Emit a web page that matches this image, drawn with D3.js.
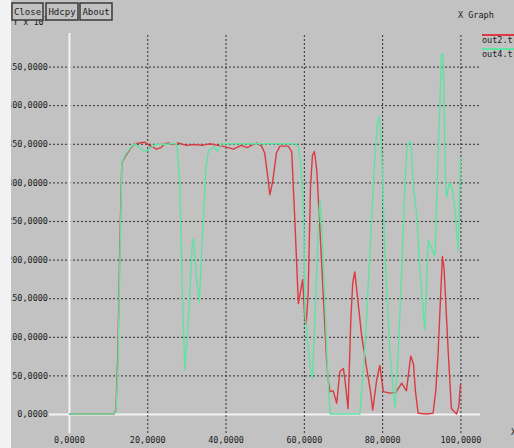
<!DOCTYPE html>
<html><head><meta charset="utf-8">
<script src="https://cdn.jsdelivr.net/npm/d3@7/dist/d3.min.js"></script>
<style>
html,body{margin:0;padding:0;background:#c2c2c2;}
svg{display:block;}
text{font-family:"DejaVu Sans Mono","Liberation Mono",monospace;font-size:8.5px;fill:#202020;}
</style></head>
<body>
<script>
// ---- data (x in 10^3, y in 10^3) ----
const xTicks = [0, 20, 40, 60, 80, 100];
const yTicks = [0, 50, 100, 150, 200, 250, 300, 350, 400, 450];
const seriesNames = ["out2.tr", "out4.tr"];
const out2X = [0,11.5,12,12.5,13,13.5,14.3,16,17,18,19.4,20.5,22.4,23.5,24.5,25.4,26.5,27.9,30,32,34,36,38,40,42,44,45.5,47,48,49.2,50,50.9,51.3,52,53,53.9,56,56.9,57.7,58.2,58.6,59.2,59.7,60.3,60.6,61.1,61.7,62.2,62.7,63.3,63.9,64.5,65.2,65.8,66.2,66.7,67.5,68.4,69.2,70.1,70.6,71.3,72,72.5,73,73.7,74.8,76,77,77.6,78.6,79.4,80.3,82,83.5,85,86.2,87.3,88,88.5,89.2,91.4,93,93.7,94.3,95,95.4,95.8,96.2,96.9,97.7,99,99.6,100];
const out2Y = [0,0,5,80,220,325,333,346,350,351,352,348,343,345,350,351,349,351,348,349,348,350,348,346,343,348,345,349,351,347,338,303,284,300,338,347,347,340,251,191,143,160,174,120,117,156,294,335,340,316,260,200,130,70,44,29,30,14,55,59,40,7,122,170,184,152,100,61,30,5,44,63,29,27,28,40,30,75,65,30,1,0,1,30,79,160,204,190,150,79,7,0,10,38];
const out4X = [0,11,12,12.5,13,13.5,14.3,16,17,18,19,20,21,22,24,26,27.5,28.3,29,29.6,30.5,31.5,31.9,32.5,33.3,34,35,35.6,37,38,39,42,45,50,55,57.7,58.5,59.2,59.8,60,60.3,60.9,61.6,62.2,62.8,63.7,64.1,64.6,65.4,66,66.7,74.3,75.2,76,77.3,78.2,78.8,79.3,79.9,80.7,82,83.3,84.1,85,85.8,86.4,87.3,88,88.8,89.7,90.9,91.8,92.6,93.5,94.3,95.2,95.6,96.2,96.5,97.2,98,98.7,99.4,100];
const out4Y = [0,0,2,60,200,325,335,347,350,345,341,341,345,349,349,350,350,300,150,57,120,220,227,180,145,220,320,340,346,340,350,350,350,350,350,350,348,325,273,243,130,96,61,46,120,243,277,240,143,60,0,0,57,122,251,338,376,385,338,208,79,9,79,187,294,350,353,294,260,182,109,225,215,204,338,467,465,300,281,300,290,260,212,333];

const W = 514, H = 448;
const svg = d3.select("body").append("svg").attr("width", W).attr("height", H);
svg.append("rect").attr("width", W).attr("height", H).attr("fill", "#c2c2c2");

const x = d3.scaleLinear().domain([-5.1, 105]).range([49, 480]);
const y = d3.scaleLinear().domain([-24.6, 493.5]).range([433, 33]);
const fmt = v => d3.format(".4f")(v).replace(".", ",");

// y axis with grid
const gy = svg.append("g").attr("transform", "translate(49,0)")
  .call(d3.axisLeft(y).tickValues(yTicks).tickSize(-431).tickPadding(1).tickFormat(fmt));
gy.select(".domain").remove();
gy.selectAll("line").attr("stroke", "#303030").attr("stroke-dasharray", "2,2").attr("stroke-width", 1);
gy.selectAll(".tick").filter(d => d === 0).select("line")
  .attr("stroke", "#f4f4f4").attr("stroke-dasharray", null).attr("stroke-width", 2);
gy.selectAll("text").attr("fill", "#202020").style("font-size", "8.5px").attr("font-family", null);

// x axis with grid
const gx = svg.append("g").attr("transform", "translate(0,433)")
  .call(d3.axisBottom(x).tickValues(xTicks).tickSize(-400).tickPadding(4).tickFormat(fmt));
gx.select(".domain").remove();
gx.selectAll("line").attr("stroke", "#303030").attr("stroke-dasharray", "2,2").attr("stroke-width", 1);
gx.selectAll(".tick").filter(d => d === 0).select("line")
  .attr("stroke", "#f4f4f4").attr("stroke-dasharray", null).attr("stroke-width", 2);
gx.selectAll("text").attr("fill", "#202020").style("font-size", "8.5px").attr("font-family", null);

// series
const colors = ["#dc3a40", "#5ee3a0"];
const line = d3.line().x(d => x(d[0])).y(d => y(d[1]));
const datasets = [d3.zip(out2X, out2Y), d3.zip(out4X, out4Y)];
datasets.forEach((ds, i) => {
  svg.append("path").datum(ds).attr("d", line).attr("fill", "none")
    .attr("stroke", colors[i]).attr("stroke-width", 1.4).attr("stroke-linejoin", "round");
});

// legend
seriesNames.forEach((n, i) => {
  const ly = 35 + i * 14;
  svg.append("line").attr("x1", 482).attr("x2", 514).attr("y1", ly).attr("y2", ly)
    .attr("stroke", colors[i]).attr("stroke-width", 2);
  svg.append("text").attr("x", 482).attr("y", ly + 8).text(n);
});

// title
svg.append("text").attr("x", 458).attr("y", 18).text("X Graph");

// axis unit labels
const yl = svg.append("text").attr("x", 13).attr("y", 25);
yl.append("tspan").text("Y x 10");
yl.append("tspan").attr("dy", -4).style("font-size", "6.5px").text("3");
svg.append("text").attr("x", 511).attr("y", 435).text("X x 10");

// buttons
const buttons = [["Close", 12, 31], ["Hdcpy", 46, 32], ["About", 80, 32]];
buttons.forEach(b => {
  svg.append("rect").attr("x", b[1]).attr("y", 3).attr("width", b[2]).attr("height", 17)
    .attr("fill", "#c2c2c2").attr("stroke", "#3a3a3a").attr("stroke-width", 1.5);
  svg.append("text").attr("x", b[1] + b[2] / 2).attr("y", 15).attr("text-anchor", "middle")
    .style("font-size", "9px").text(b[0]);
});

// left white strip
svg.append("rect").attr("x", 0).attr("y", 0).attr("width", 11).attr("height", H).attr("fill", "#f2f2f2");
</script>
</body></html>
